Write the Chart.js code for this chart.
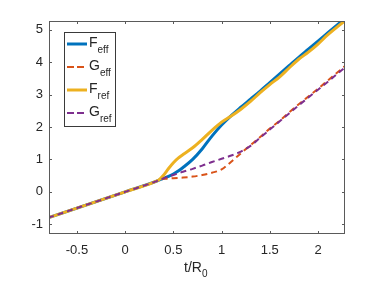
<!DOCTYPE html>
<html>
<head>
<meta charset="utf-8">
<script src="https://cdn.jsdelivr.net/npm/chart.js@4.4.1/dist/chart.umd.min.js"></script>
<style>
  html, body { margin: 0; padding: 0; background: #fff; }
  #wrap { width: 382px; height: 286px; }
</style>
</head>
<body>
<div id="wrap"><canvas id="c"></canvas></div>
<script>
// t/R0 sample points shared by all four curves
const tVals = [-0.8, -0.4, 0, 0.3, 0.35, 0.4, 0.45, 0.5, 0.55, 0.6, 0.7, 0.8, 0.9, 1.0,
  1.1, 1.2, 1.3, 1.4, 1.5, 1.6, 1.7, 1.8, 1.9, 2.0, 2.1, 2.2, 2.3];

const fEff = [-0.8, -0.4, 0, 0.30, 0.36, 0.42, 0.48, 0.55, 0.64, 0.75, 1.00, 1.33, 1.72, 2.06,
  2.35, 2.61, 2.86, 3.11, 3.37, 3.63, 3.89, 4.15, 4.40, 4.65, 4.90, 5.15, 5.40];
const gEff = [-0.8, -0.4, 0, 0.30, 0.36, 0.40, 0.41, 0.42, 0.43, 0.44, 0.47, 0.52, 0.59, 0.69,
  0.93, 1.19, 1.44, 1.69, 1.95, 2.19, 2.45, 2.70, 2.94, 3.18, 3.43, 3.68, 3.93];
const fRef = [-0.8, -0.4, 0, 0.30, 0.37, 0.52, 0.72, 0.90, 1.04, 1.15, 1.36, 1.62, 1.90, 2.15,
  2.34, 2.55, 2.79, 3.06, 3.31, 3.54, 3.82, 4.09, 4.31, 4.56, 4.84, 5.09, 5.32];
const gRef = [-0.8, -0.4, 0, 0.30, 0.36, 0.42, 0.47, 0.52, 0.57, 0.62, 0.71, 0.81, 0.92, 1.02,
  1.12, 1.24, 1.42, 1.67, 1.92, 2.17, 2.42, 2.67, 2.91, 3.15, 3.39, 3.64, 3.89];

const xTicks = [-0.5, 0, 0.5, 1, 1.5, 2];
const yTicks = [-1, 0, 1, 2, 3, 4, 5];

const legendItems = [
  { main: "F", sub: "eff", color: "#0072BD", dash: [] },
  { main: "G", sub: "eff", color: "#D95319", dash: [6, 4] },
  { main: "F", sub: "ref", color: "#EDB120", dash: [] },
  { main: "G", sub: "ref", color: "#7E2F8E", dash: [6, 4] },
];

const FONT = "'Liberation Sans', Arial, sans-serif";

function pts(ys) {
  return tVals.map((t, i) => ({ x: t, y: ys[i] }));
}

function series(label, ys, color, dashed, order) {
  return {
    label: label,
    data: pts(ys),
    borderColor: color,
    borderWidth: dashed ? 2 : 3,
    borderDash: dashed ? [6, 4] : [],
    pointRadius: 0,
    cubicInterpolationMode: "monotone",
    fill: false,
    order: order,
  };
}

// MATLAB-like box: inner ticks on all four sides, legend with subscripts, x label
const boxPlugin = {
  id: "box",
  afterDraw(chart) {
    const ctx = chart.ctx;
    const a = chart.chartArea;
    const xs = chart.scales.x, ys = chart.scales.y;
    ctx.save();
    ctx.strokeStyle = "#5a5a5a";
    ctx.lineWidth = 1;
    ctx.strokeRect(a.left + 0.5, a.top + 0.5, a.right - a.left - 1, a.bottom - a.top - 1);
    ctx.beginPath();
    xTicks.forEach((v) => {
      const px = Math.round(xs.getPixelForValue(v)) + 0.5;
      ctx.moveTo(px, a.bottom); ctx.lineTo(px, a.bottom - 3);
      ctx.moveTo(px, a.top); ctx.lineTo(px, a.top + 3);
    });
    yTicks.forEach((v) => {
      const py = Math.round(ys.getPixelForValue(v)) + 0.5;
      ctx.moveTo(a.left, py); ctx.lineTo(a.left + 3, py);
      ctx.moveTo(a.right, py); ctx.lineTo(a.right - 3, py);
    });
    ctx.stroke();

    // legend
    const lx = a.left + 15, ly = a.top + 11, lw = 51, lh = 94;
    ctx.fillStyle = "#fff";
    ctx.fillRect(lx, ly, lw, lh);
    ctx.strokeStyle = "#3a3a3a";
    ctx.strokeRect(lx + 0.5, ly + 0.5, lw, lh);
    legendItems.forEach((it, i) => {
      const cy = ly + 12 + i * 23;
      ctx.strokeStyle = it.color;
      ctx.lineWidth = it.dash.length ? 2 : 3;
      ctx.setLineDash(it.dash.length ? [7, 3] : []);
      ctx.beginPath();
      ctx.moveTo(lx + 3, cy);
      ctx.lineTo(lx + 23, cy);
      ctx.stroke();
      ctx.setLineDash([]);
      ctx.fillStyle = "#262626";
      ctx.textBaseline = "middle";
      ctx.textAlign = "left";
      ctx.font = "14px " + FONT;
      ctx.fillText(it.main, lx + 25, cy - 1);
      const w = ctx.measureText(it.main).width;
      ctx.font = "10px " + FONT;
      ctx.fillText(it.sub, lx + 25 + w, cy + 6);
    });

    // x-axis label t/R0
    ctx.fillStyle = "#262626";
    ctx.textBaseline = "middle";
    ctx.textAlign = "left";
    ctx.font = "14px " + FONT;
    const main = "t/R";
    const mw = ctx.measureText(main).width;
    const cx = (a.left + a.right) / 2 - 13;
    ctx.fillText(main, cx, 268);
    ctx.font = "10px " + FONT;
    ctx.fillText("0", cx + mw, 274);
    ctx.restore();
  },
};

new Chart(document.getElementById("c").getContext("2d"), {
  type: "line",
  data: {
    datasets: [
      series("Feff", fEff, "#0072BD", false, 4),
      series("Geff", gEff, "#D95319", true, 3),
      series("Fref", fRef, "#EDB120", false, 2),
      series("Gref", gRef, "#7E2F8E", true, 1),
    ],
  },
  options: {
    responsive: true,
    maintainAspectRatio: false,
    animation: false,
    layout: { padding: { left: 0, right: 37, top: 21, bottom: 0 } },
    plugins: { legend: { display: false }, tooltip: { enabled: false } },
    scales: {
      x: {
        type: "linear",
        min: -0.79,
        max: 2.28,
        afterBuildTicks: (s) => { s.ticks = xTicks.map((v) => ({ value: v })); },
        afterFit: (s) => { s.height = 52; },
        grid: { display: true, drawOnChartArea: false, drawTicks: false },
        border: { display: false },
        ticks: { color: "#262626", font: { family: FONT, size: 13 }, padding: 9, maxRotation: 0,
          callback: (v) => String(v) },
      },
      y: {
        type: "linear",
        min: -1.3,
        max: 5.27,
        afterBuildTicks: (s) => { s.ticks = yTicks.map((v) => ({ value: v })); },
        afterFit: (s) => { s.width = 49; },
        grid: { display: true, drawOnChartArea: false, drawTicks: false },
        border: { display: false },
        ticks: { color: "#262626", font: { family: FONT, size: 13 }, padding: 6,
          callback: (v) => String(v) },
      },
    },
  },
  plugins: [boxPlugin],
});
</script>
</body>
</html>
